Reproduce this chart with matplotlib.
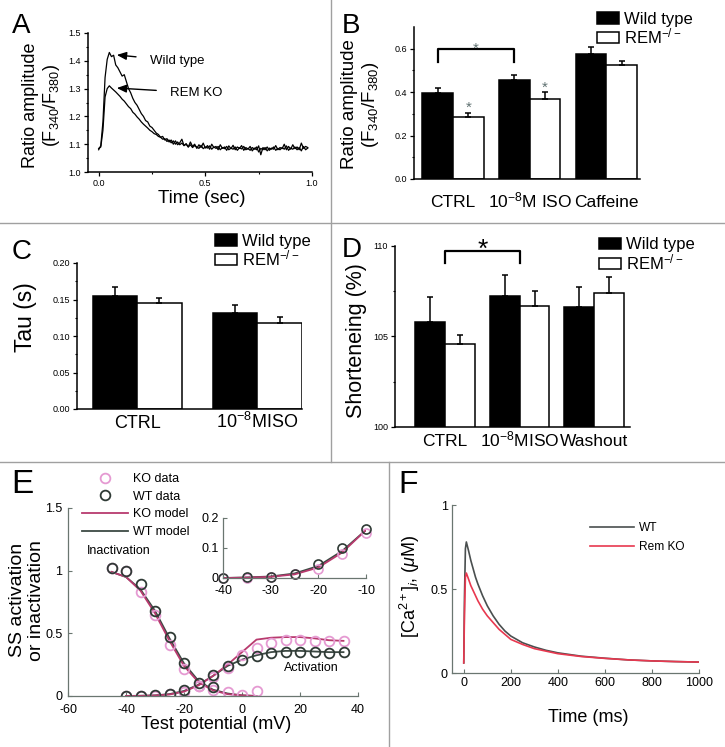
import numpy as np
import matplotlib
matplotlib.use("Agg")
import matplotlib.pyplot as plt
from matplotlib.lines import Line2D
from matplotlib.patches import Patch

plt.rcParams["font.family"] = ["Liberation Sans", "DejaVu Sans"]
plt.rcParams["mathtext.fontset"] = "custom"
plt.rcParams["mathtext.rm"] = "Liberation Sans"
plt.rcParams["mathtext.it"] = "Liberation Sans:italic"
plt.rcParams["mathtext.bf"] = "Liberation Sans:bold"

W, H = 725, 747

# ---------------- data ----------------
# (A) calcium transients, ratio F340/F380, sampled every 10 ms
a_time = np.round(np.arange(0, 0.985, 0.01), 2)
a_wt = [1.080, 1.095, 1.180, 1.340, 1.405, 1.430, 1.415, 1.420, 1.385, 1.375,
        1.360, 1.345, 1.350, 1.325, 1.300, 1.285, 1.265, 1.250, 1.240, 1.225,
        1.210, 1.200, 1.185, 1.180, 1.165, 1.160, 1.150, 1.140, 1.135, 1.125,
        1.128, 1.115, 1.120, 1.108, 1.115, 1.100, 1.112, 1.098, 1.105, 1.118,
        1.095, 1.102, 1.090, 1.108, 1.092, 1.100, 1.085, 1.098, 1.088, 1.104,
        1.086, 1.095, 1.082, 1.100, 1.088, 1.092, 1.080, 1.098, 1.085, 1.090,
        1.078, 1.094, 1.084, 1.096, 1.080, 1.090, 1.085, 1.095, 1.078, 1.088,
        1.082, 1.092, 1.076, 1.086, 1.080, 1.094, 1.062, 1.088, 1.080, 1.090,
        1.078, 1.086, 1.082, 1.095, 1.080, 1.088, 1.084, 1.100, 1.080, 1.092,
        1.082, 1.098, 1.084, 1.090, 1.080, 1.104, 1.085, 1.092, 1.088]
a_ko = [1.085, 1.090, 1.150, 1.270, 1.300, 1.310, 1.302, 1.295, 1.288, 1.280,
        1.272, 1.262, 1.255, 1.245, 1.235, 1.228, 1.215, 1.208, 1.198, 1.190,
        1.180, 1.172, 1.165, 1.158, 1.150, 1.145, 1.138, 1.135, 1.128, 1.125,
        1.118, 1.120, 1.110, 1.115, 1.105, 1.112, 1.100, 1.108, 1.098, 1.104,
        1.095, 1.100, 1.090, 1.098, 1.088, 1.095, 1.090, 1.085, 1.096, 1.084,
        1.090, 1.086, 1.094, 1.082, 1.090, 1.085, 1.092, 1.080, 1.088, 1.084,
        1.092, 1.080, 1.086, 1.082, 1.090, 1.078, 1.087, 1.083, 1.092, 1.080,
        1.085, 1.078, 1.088, 1.082, 1.090, 1.072, 1.085, 1.080, 1.088, 1.076,
        1.086, 1.082, 1.090, 1.078, 1.085, 1.080, 1.088, 1.082, 1.094, 1.078,
        1.086, 1.082, 1.090, 1.080, 1.088, 1.076, 1.092, 1.080, 1.086]

# (B) ratio amplitude
b_groups = ["CTRL", "10$^{-8}$M ISO", "Caffeine"]
b_wt = [0.395, 0.455, 0.575]
b_wt_err = [0.025, 0.025, 0.035]
b_ko = [0.285, 0.370, 0.525]
b_ko_err = [0.020, 0.030, 0.020]

# (C) decay tau
c_groups = ["CTRL", "10$^{-8}$MISO"]
c_wt = [0.155, 0.131]
c_wt_err = [0.012, 0.011]
c_ko = [0.145, 0.118]
c_ko_err = [0.007, 0.008]

# (D) shortening
d_groups = ["CTRL", "10$^{-8}$MISO", "Washout"]
d_wt = [105.8, 107.25, 106.65]
d_wt_err = [1.4, 1.15, 1.1]
d_ko = [104.6, 106.7, 107.4]
d_ko_err = [0.5, 0.8, 0.9]

# (E) steady-state activation / inactivation
e_inact_v = [-45, -40, -35, -30, -25, -20, -15, -10, -5, 0, 5]
e_inact_ko = [1.02, 1.00, 0.83, 0.645, 0.41, 0.215, 0.08, 0.05, 0.035, 0.01, 0.04]
e_inact_wt_v = [-45, -40, -35, -30, -25, -20, -10]
e_inact_wt = [1.02, 1.00, 0.89, 0.68, 0.47, 0.26, 0.07]
e_act_v = [-40, -35, -30, -25, -20, -15, -10, -5, 0, 5, 10, 15, 20, 25, 30, 35]
e_act_wt = [0.0, 0.002, 0.004, 0.015, 0.048, 0.10, 0.165, 0.24, 0.29, 0.32, 0.34,
            0.355, 0.355, 0.35, 0.345, 0.35]
e_act_ko = [0.0, 0.0, 0.003, 0.012, 0.03, 0.08, 0.15, 0.22, 0.33, 0.38, 0.42,
            0.445, 0.445, 0.44, 0.44, 0.44]
e_model_inact_v = [-45, -40, -35, -30, -25, -20, -15, -10, -5, 0, 5]
e_model_inact_wt = [0.99, 0.95, 0.85, 0.68, 0.46, 0.26, 0.12, 0.05, 0.02, 0.005, 0.0]
e_model_inact_ko = [0.99, 0.95, 0.84, 0.66, 0.44, 0.24, 0.11, 0.045, 0.015, 0.005, 0.0]
e_model_act_wt = [0.0, 0.002, 0.005, 0.015, 0.04, 0.09, 0.16, 0.24, 0.29, 0.325,
                  0.35, 0.36, 0.36, 0.355, 0.35, 0.35]
e_model_act_ko = [0.0, 0.001, 0.004, 0.012, 0.035, 0.085, 0.16, 0.25, 0.35, 0.45,
                  0.465, 0.47, 0.47, 0.46, 0.445, 0.44]

# (F) simulated calcium transients
f_time = [0, 3, 7, 11, 20, 30, 40, 50, 60, 80, 100, 125, 150, 175, 200, 250,
          300, 350, 400, 500, 600, 700, 800, 900, 1000]
f_wt = [0.06, 0.45, 0.74, 0.78, 0.73, 0.67, 0.62, 0.57, 0.53, 0.46, 0.40, 0.34,
        0.29, 0.25, 0.22, 0.18, 0.155, 0.135, 0.12, 0.10, 0.088, 0.078, 0.072,
        0.068, 0.065]
f_ko = [0.06, 0.35, 0.57, 0.595, 0.56, 0.52, 0.49, 0.46, 0.43, 0.38, 0.34, 0.30,
        0.26, 0.23, 0.20, 0.17, 0.145, 0.13, 0.115, 0.098, 0.087, 0.078, 0.072,
        0.068, 0.065]

KO_PINK = "#e59ad2"
WT_DARK = "#2f3a35"
KO_LINE = "#b83a6e"
WT_LINE = "#3d4a44"
AX_GRAY = "#6a7670"
STAR_GRAY = "#5f7070"


def px_axes(fig, l, r, b, t):
    return fig.add_axes([l / W, 1 - b / H, (r - l) / W, (b - t) / H])


def origin_style(ax):
    for s in ("top", "right"):
        ax.spines[s].set_visible(False)
    for s in ("left", "bottom"):
        ax.spines[s].set_linewidth(1.1)
    ax.tick_params(direction="out", length=3, width=0.9, labelsize=6.5, pad=2)
    ax.tick_params(which="minor", direction="out", length=1.6, width=0.8)


def matlab_style(ax, size=9):
    for s in ("top", "right"):
        ax.spines[s].set_visible(False)
    for s in ("left", "bottom"):
        ax.spines[s].set_color(AX_GRAY)
        ax.spines[s].set_linewidth(0.9)
    ax.tick_params(direction="in", length=3, width=0.8, color=AX_GRAY,
                   labelsize=size, pad=3)


def bar_panel(ax, groups, wt, wt_err, ko, ko_err, width, capsize, size, pad):
    x = np.arange(len(groups))
    ax.bar(x - width / 2, wt, width, color="black", edgecolor="black", linewidth=1.1)
    ax.bar(x + width / 2, ko, width, color="white", edgecolor="black", linewidth=1.1)
    ax.errorbar(x - width / 2, wt, yerr=[np.zeros(len(wt)), wt_err], fmt="none",
                ecolor="black", elinewidth=1.1, capsize=capsize, capthick=1.1)
    ax.errorbar(x + width / 2, ko, yerr=[np.zeros(len(ko)), ko_err], fmt="none",
                ecolor="black", elinewidth=1.1, capsize=capsize, capthick=1.1)
    origin_style(ax)
    ax.set_xticks(x)
    ax.set_xticklabels(groups, va="baseline")
    ax.tick_params(axis="x", which="both", length=0, labelsize=size, pad=pad)
    return x


def bar_legend(ax, x0, y0, size=12):
    handles = [Patch(facecolor="black", edgecolor="black", linewidth=1.1),
               Patch(facecolor="white", edgecolor="black", linewidth=1.1)]
    ax.legend(handles, ["Wild type", "REM$^{-/-}$"], loc="upper left",
              bbox_to_anchor=(x0, y0), frameon=False, fontsize=size,
              handlelength=1.3, handleheight=0.65, handletextpad=0.3,
              labelspacing=0.0, borderaxespad=0, borderpad=0)


fig = plt.figure(figsize=(W / 100, H / 100), dpi=100)

# dividers
for (x0, y0, x1, y1) in [(0, 223, W, 223), (0, 462, W, 462),
                         (331, 0, 331, 462), (389, 462, 389, H)]:
    fig.add_artist(Line2D([x0 / W, x1 / W], [1 - y0 / H, 1 - y1 / H],
                          color="#a0a0a0", linewidth=1.0))

# ---------------- (A) ----------------
axA = px_axes(fig, 88, 312, 172, 33)
axA.plot(a_time, a_wt, color="black", linewidth=0.9)
axA.plot(a_time, a_ko, color="black", linewidth=0.9)
axA.set_xlim(-0.05, 1.0)
axA.set_ylim(1.0, 1.5)
axA.set_xticks([0.0, 0.5, 1.0])
axA.set_xticks([0.25, 0.75], minor=True)
axA.set_yticks([1.0, 1.1, 1.2, 1.3, 1.4, 1.5])
axA.set_yticks([1.05, 1.15, 1.25, 1.35, 1.45], minor=True)
origin_style(axA)
axA.annotate("Wild type", xy=(0.085, 1.421), xytext=(0.24, 1.40),
             fontsize=9.5, va="center",
             arrowprops=dict(arrowstyle="-|>,head_length=0.6,head_width=0.25",
                             color="black", lw=1.0, shrinkA=8, shrinkB=0))
axA.annotate("REM KO", xy=(0.085, 1.302), xytext=(0.335, 1.285),
             fontsize=9.5, va="center",
             arrowprops=dict(arrowstyle="-|>,head_length=0.6,head_width=0.25",
                             color="black", lw=1.0, shrinkA=8, shrinkB=0))
axA.set_ylabel("Ratio amplitude\n(F$_{340}$/F$_{380}$)", fontsize=13,
               linespacing=1.15)
axA.yaxis.set_label_coords(-0.116, 0.48)
axA.set_xlabel("Time (sec)", fontsize=13.5)
axA.xaxis.set_label_coords(0.509, -0.13)

# ---------------- (B) ----------------
axB = px_axes(fig, 414, 640, 179, 27)
bw = 0.4
xb = bar_panel(axB, b_groups, b_wt, b_wt_err, b_ko, b_ko_err, bw, 2.5, 12.5, 20.5)
axB.set_xlim(-0.51, 2.44)
axB.set_ylim(0, 0.7)
axB.set_yticks([0.0, 0.2, 0.4, 0.6])
axB.set_yticks([0.1, 0.3, 0.5], minor=True)
bracket_lo, bracket_hi = 0.54, 0.60
axB.plot([xb[0] - bw / 2, xb[0] - bw / 2, xb[1] - bw / 2, xb[1] - bw / 2],
         [bracket_lo, bracket_hi, bracket_hi, bracket_lo], color="black", lw=1.6)
axB.text((xb[0] + xb[1]) / 2 - bw / 2, 0.60, "*", color=STAR_GRAY,
         fontsize=11, ha="center", va="center")
for i in range(2):
    axB.text(xb[i] + bw / 2, b_ko[i] + b_ko_err[i] + 0.022, "*",
             color=STAR_GRAY, fontsize=11, ha="center", va="center")
axB.set_ylabel("Ratio amplitude\n(F$_{340}$/F$_{380}$)", fontsize=13.5,
               linespacing=1.15)
axB.yaxis.set_label_coords(-0.146, 0.49)
bar_legend(axB, 0.81, 1.10)

# ---------------- (C) ----------------
axC = px_axes(fig, 77, 302, 409, 263)
cw = 0.37
bar_panel(axC, c_groups, c_wt, c_wt_err, c_ko, c_ko_err, cw, 2.5, 13, 13.5)
axC.set_xlim(-0.5, 1.37)
axC.set_ylim(0, 0.2)
axC.set_yticks([0.0, 0.05, 0.10, 0.15, 0.20])
axC.set_yticklabels(["0.00", "0.05", "0.10", "0.15", "0.20"])
axC.set_yticks([0.025, 0.075, 0.125, 0.175], minor=True)
axC.set_ylabel("Tau (s)", fontsize=16.5)
axC.yaxis.set_label_coords(-0.178, 0.63)
bar_legend(axC, 0.613, 1.20)

# ---------------- (D) ----------------
axD = px_axes(fig, 395, 630, 427, 246)
dw = 0.40
xd = bar_panel(axD, d_groups, d_wt, d_wt_err, d_ko, d_ko_err, dw, 2.5, 12.5, 14)
axD.set_xlim(-0.67, 2.48)
axD.set_ylim(100, 110)
axD.set_yticks([100, 105, 110])
axD.set_yticks([102.5, 107.5], minor=True)
d_lo, d_hi = 109.05, 109.7
axD.plot([xd[0], xd[0], xd[1], xd[1]], [d_lo, d_hi, d_hi, d_lo],
         color="black", lw=1.6)
axD.text((xd[0] + xd[1]) / 2, 109.8, "*", fontsize=19, ha="center",
         va="center")
axD.set_ylabel("Shorteneing (%)", fontsize=15.5)
axD.yaxis.set_label_coords(-0.119, 0.48)
bar_legend(axD, 0.868, 1.047)

# ---------------- (E) ----------------
axE = px_axes(fig, 68, 358, 696, 508)
axE.plot(e_model_inact_v, e_model_inact_wt, color=WT_LINE, lw=1.3)
axE.plot(e_model_inact_v, e_model_inact_ko, color=KO_LINE, lw=1.3)
axE.plot(e_act_v, e_model_act_wt, color=WT_LINE, lw=1.3)
axE.plot(e_act_v, e_model_act_ko, color=KO_LINE, lw=1.3)
axE.plot(e_inact_v, e_inact_ko, "o", mfc="none", mec=KO_PINK, ms=7, mew=1.3)
axE.plot(e_act_v, e_act_ko, "o", mfc="none", mec=KO_PINK, ms=7, mew=1.3)
axE.plot(e_inact_wt_v, e_inact_wt, "o", mfc="none", mec=WT_DARK, ms=7, mew=1.3)
axE.plot(e_act_v, e_act_wt, "o", mfc="none", mec=WT_DARK, ms=7, mew=1.3)
axE.set_xlim(-60, 40)
axE.set_ylim(0, 1.5)
axE.set_xticks([-60, -40, -20, 0, 20, 40])
axE.set_xticklabels(["-60", "-40", "-20", "0", "20", "40"])
axE.set_yticks([0, 0.5, 1, 1.5])
axE.set_yticklabels(["0", "0.5", "1", "1.5"])
matlab_style(axE)
axE.tick_params(axis="x", pad=5.5)
axE.tick_params(axis="y", pad=4)
axE.text(-53.5, 1.16, "Inactivation", fontsize=9, va="center")
axE.text(14.5, 0.22, "Activation", fontsize=9, va="center")
e_handles = [Line2D([], [], marker="o", ls="none", mfc="none", mec=KO_PINK, ms=7, mew=1.3),
             Line2D([], [], marker="o", ls="none", mfc="none", mec=WT_DARK, ms=7, mew=1.3),
             Line2D([], [], color=KO_LINE, lw=1.3),
             Line2D([], [], color=WT_LINE, lw=1.3)]
axE.legend(e_handles, ["KO data", "WT data", "KO model", "WT model"],
           loc="upper left", bbox_to_anchor=(0.048, 1.186), frameon=False,
           fontsize=9, handlelength=3.7, handletextpad=0.4, labelspacing=0.45,
           borderaxespad=0, borderpad=0)
axE.set_ylabel("SS activation\nor inactivation", fontsize=14, linespacing=1.1)
axE.yaxis.set_label_coords(-0.08, 0.51)
axE.set_xlabel("Test potential (mV)", fontsize=13)
axE.xaxis.set_label_coords(0.51, -0.105)

# inset
axI = px_axes(fig, 223, 366, 578, 518)
axI.plot(e_act_v[:7], e_model_act_wt[:7], color=WT_LINE, lw=1.3)
axI.plot(e_act_v[:7], e_model_act_ko[:7], color=KO_LINE, lw=1.3)
axI.plot(e_act_v[:7], e_act_ko[:7], "o", mfc="none", mec=KO_PINK, ms=6.5, mew=1.2,
         clip_on=False)
axI.plot(e_act_v[:7], e_act_wt[:7], "o", mfc="none", mec=WT_DARK, ms=6.5, mew=1.2,
         clip_on=False)
axI.set_xlim(-40, -10)
axI.set_ylim(0, 0.2)
axI.set_xticks([-40, -30, -20, -10])
axI.set_xticklabels(["-40", "-30", "-20", "-10"])
axI.set_yticks([0, 0.1, 0.2])
axI.set_yticklabels(["0", "0.1", "0.2"])
matlab_style(axI, size=9)
axI.tick_params(axis="y", pad=3)
axI.tick_params(axis="x", pad=5)
axI.patch.set_alpha(0)

# ---------------- (F) ----------------
axF = px_axes(fig, 452, 699, 673, 505)
axF.plot(f_time, f_wt, color="#4a4f4f", lw=1.2, label="WT")
axF.plot(f_time, f_ko, color="#e8384f", lw=1.2, label="Rem KO")
axF.set_xlim(-50, 1000)
axF.set_ylim(0, 1)
axF.set_xticks([0, 200, 400, 600, 800, 1000])
axF.set_yticks([0, 0.5, 1])
axF.set_yticklabels(["0", "0.5", "1"])
matlab_style(axF)
axF.legend(loc="upper left", bbox_to_anchor=(0.559, 0.899), frameon=False,
           fontsize=8.6, handlelength=3.7, handletextpad=0.4, labelspacing=0.6,
           borderaxespad=0, borderpad=0)
axF.set_ylabel("[Ca$^{2+}$]$_i$, ($\\mu$M)", fontsize=13)
axF.yaxis.set_label_coords(-0.121, 0.518)
axF.set_xlabel("Time (ms)", fontsize=13)
axF.xaxis.set_label_coords(0.55, -0.214)

# panel letters
for letter, x, y, size in [("A", 12, 13, 20), ("B", 342, 13, 20), ("C", 12, 239, 20),
                           ("D", 342, 237, 20), ("E", 11, 469, 24), ("F", 398, 470, 23)]:
    fig.text(x / W, 1 - y / H, letter, fontsize=size, ha="left", va="top")

fig.savefig("out.png", dpi=100)
